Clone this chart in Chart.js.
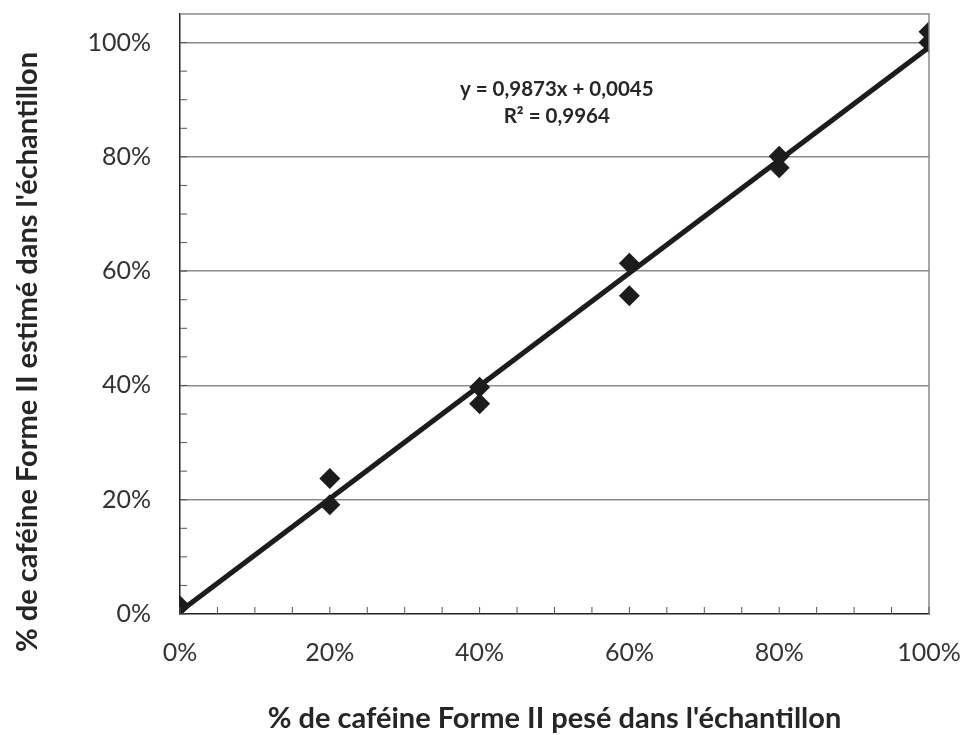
<!DOCTYPE html>
<html>
<head>
<meta charset="utf-8">
<script src="https://cdn.jsdelivr.net/npm/chart.js@4"></script>
<style>
  html, body { margin: 0; padding: 0; background: #fff; }
  #wrap { width: 965px; height: 735px; }
</style>
</head>
<body>
<div id="wrap"><canvas id="chart"></canvas></div>
<script>
// weighed vs estimated fraction of caffeine form II
const pesé = [0, 0.2, 0.2, 0.4, 0.4, 0.6, 0.6, 0.8, 0.8, 1.0, 1.0];
const estimé = [0.014, 0.237, 0.191, 0.397, 0.368, 0.614, 0.557, 0.801, 0.781, 1.019, 1.0];
// linear trend end points (y = 0,9873x + 0,0045)
const trendX = [0, 1];
const trendY = [0.0045, 0.9918];
const majorTicks = [0, 0.2, 0.4, 0.6, 0.8, 1.0];
const minorTicks = [0.05, 0.1, 0.15, 0.25, 0.3, 0.35, 0.45, 0.5, 0.55, 0.65, 0.7, 0.75, 0.85, 0.9, 0.95];
const equation = ['y = 0,9873x + 0,0045', 'R² = 0,9964'];
const titreY = "% de caféine Forme II estimé dans l'échantillon";
const titreX = "% de caféine Forme II pesé dans l'échantillon";

const pct = v => Math.round(v * 100) + '%';
const font = 'Lato, "Open Sans", sans-serif';

const frame = {
  id: 'frame',
  afterDatasetsDraw(chart) {
    const { ctx, chartArea: a, scales: { x, y } } = chart;
    ctx.save();
    // grey top and right border
    ctx.strokeStyle = '#8a8a8a';
    ctx.lineWidth = 1.5;
    ctx.beginPath();
    ctx.moveTo(a.left, a.top);
    ctx.lineTo(a.right, a.top);
    ctx.lineTo(a.right, a.bottom);
    ctx.stroke();
    // inside tick marks
    ctx.strokeStyle = '#555';
    ctx.lineWidth = 1;
    ctx.beginPath();
    majorTicks.concat(minorTicks).forEach(v => {
      const px = x.getPixelForValue(v);
      ctx.moveTo(px, a.bottom);
      ctx.lineTo(px, a.bottom - 7);
      const py = y.getPixelForValue(v);
      ctx.moveTo(a.left, py);
      ctx.lineTo(a.left + 7, py);
    });
    ctx.stroke();
    // equation label
    ctx.fillStyle = '#262626';
    ctx.font = 'bold 20.5px ' + font;
    ctx.textAlign = 'center';
    ctx.textBaseline = 'middle';
    const cx = x.getPixelForValue(0.503);
    ctx.fillText(equation[0], cx, y.getPixelForValue(0.918));
    ctx.fillText(equation[1], cx, y.getPixelForValue(0.870));
    // y axis title (sits a little below the plot centre, as in the original)
    ctx.translate(28, (a.top + a.bottom) / 2 + 38);
    ctx.rotate(-Math.PI / 2);
    ctx.font = 'bold 29px ' + font;
    ctx.fillText(titreY, 0, 0);
    ctx.restore();
  }
};

new Chart(document.getElementById('chart'), {
  type: 'scatter',
  data: {
    datasets: [
      {
        label: 'Linéaire',
        type: 'line',
        data: trendX.map((v, i) => ({ x: v, y: trendY[i] })),
        borderColor: '#1c1c1c',
        borderWidth: 5,
        pointRadius: 0,
        order: 2
      },
      {
        label: 'Échantillons',
        data: pesé.map((v, i) => ({ x: v, y: estimé[i] })),
        pointStyle: 'rectRot',
        pointRadius: 10.5,
        pointHoverRadius: 10.5,
        backgroundColor: '#1c1c1c',
        borderColor: '#1c1c1c',
        borderWidth: 0,
        order: 1
      }
    ]
  },
  options: {
    responsive: true,
    maintainAspectRatio: false,
    animation: false,
    layout: { padding: { left: 0, right: 36, top: 14, bottom: 0 } },
    plugins: {
      legend: { display: false },
      tooltip: { enabled: false }
    },
    scales: {
      x: {
        type: 'linear',
        min: 0,
        max: 1,
        afterBuildTicks: s => { s.ticks = majorTicks.map(v => ({ value: v })); },
        afterFit: s => {
          s.height = 121;
          s.paddingLeft = 0;
          s.paddingRight = 0;
        },
        grid: { display: false, drawTicks: false },
        border: { color: '#222', width: 1.5 },
        ticks: {
          callback: pct,
          color: '#333',
          padding: 24,
          font: { family: font, size: 25 }
        },
        title: {
          display: true,
          text: titreX,
          color: '#262626',
          font: { family: font, size: 29, weight: 'bold', lineHeight: 1 },
          padding: { top: 0, bottom: 2 }
        }
      },
      y: {
        type: 'linear',
        min: 0,
        max: 1.05,
        afterBuildTicks: s => { s.ticks = majorTicks.map(v => ({ value: v })); },
        afterFit: s => {
          s.width = 180;
          s.paddingTop = 0;
          s.paddingBottom = 0;
        },
        grid: {
          drawTicks: false,
          color: ctx => ctx.tick && ctx.tick.value === 0 ? 'rgba(0,0,0,0)' : '#8a8a8a',
          lineWidth: 1.5
        },
        border: { color: '#222', width: 1.5 },
        ticks: {
          callback: pct,
          color: '#333',
          padding: 29,
          font: { family: font, size: 25 }
        }
      }
    }
  },
  plugins: [frame]
});
</script>
</body>
</html>
